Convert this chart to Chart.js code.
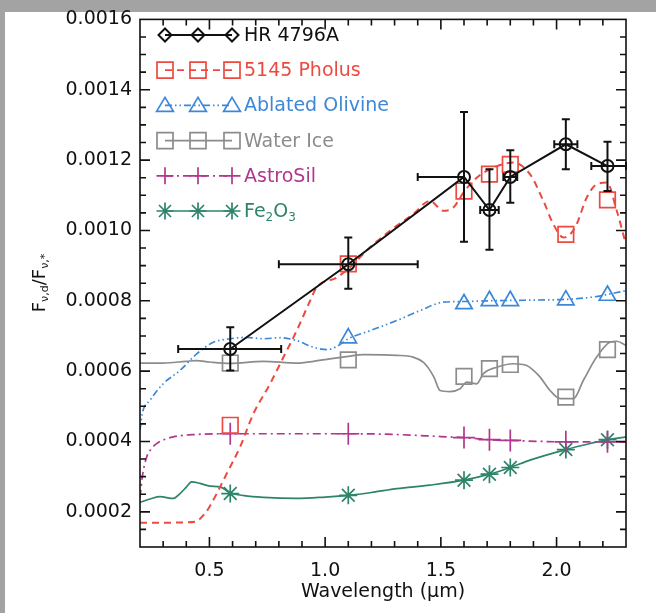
<!DOCTYPE html>
<html>
<head>
<meta charset="utf-8">
<script src="https://cdn.jsdelivr.net/npm/chart.js@4.4.1/dist/chart.umd.min.js"></script>
<style>
  html, body { margin: 0; padding: 0; background: #a3a3a3; }
  #sheet { position: absolute; left: 5px; top: 12px; width: 651px; height: 601px; background: #fff; }
  #spectrum { position: absolute; left: 0; top: 0; }
</style>
</head>
<body>
<div id="sheet"></div>
<canvas id="spectrum" width="656" height="613"></canvas>
<script>
// band centres (microns) where the photometry and model fluxes are sampled
const bands = [0.59, 1.10, 1.60, 1.71, 1.80, 2.04, 2.22];

// HR 4796A measured dust/star flux ratio with errors
const hrFlux   = [0.000663, 0.000904, 0.001152, 0.001058, 0.001152, 0.001245, 0.001183];
const hrFluxLo = [0.000602, 0.000834, 0.000968, 0.000945, 0.001079, 0.001174, 0.001112];
const hrFluxHi = [0.000725, 0.000980, 0.001337, 0.001174, 0.001228, 0.001316, 0.001252];
const hrWaveLo = [0.365, 0.80, 1.40, 1.67, 1.77, 1.99, 2.15];
const hrWaveHi = [0.81, 1.40, 1.60, 1.75, 1.83, 2.09, 2.30];

// model fluxes in each band
const pholusBand  = [0.000446, 0.000905, 0.001112, 0.001160, 0.001188, 0.000989, 0.001087];
const olivineBand = [null, 0.000694, 0.000791, 0.000800, 0.000800, 0.000802, 0.000815];
const waterBand   = [0.000623, 0.000632, 0.000585, 0.000607, 0.000619, 0.000526, 0.000661];
const astroBand   = [0.000422, 0.000422, 0.000411, 0.000405, 0.000403, 0.000399, 0.000399];
const feBand      = [0.000252, 0.000247, 0.000290, 0.000307, 0.000326, 0.000377, 0.000405];

// model spectra
const pholusWave = [0.20, 0.30, 0.40, 0.44, 0.48, 0.50, 0.53, 0.575, 0.632, 0.69, 0.762, 0.82, 0.877, 0.935, 0.963, 1.05, 1.107, 1.194, 1.28, 1.38, 1.453, 1.49, 1.51, 1.554, 1.60, 1.655, 1.712, 1.813, 1.885, 1.943, 1.986, 2.03, 2.06, 2.087, 2.13, 2.173, 2.217, 2.26, 2.30];
const pholusFlux = [0.000169, 0.000169, 0.000170, 0.000172, 0.000195, 0.000214, 0.000250, 0.000309, 0.000384, 0.000479, 0.000564, 0.000640, 0.000715, 0.000800, 0.000838, 0.000866, 0.000895, 0.000952, 0.000999, 0.001046, 0.001084, 0.001065, 0.001056, 0.001065, 0.001110, 0.001150, 0.001174, 0.001193, 0.001160, 0.001084, 0.001018, 0.000980, 0.000990, 0.001018, 0.001093, 0.001131, 0.001136, 0.001056, 0.000960];

const olivineWave = [0.20, 0.21, 0.243, 0.30, 0.373, 0.445, 0.517, 0.589, 0.661, 0.733, 0.805, 0.877, 0.949, 1.007, 1.05, 1.10, 1.194, 1.31, 1.41, 1.51, 1.60, 1.71, 1.80, 1.90, 2.04, 2.15, 2.22, 2.30];
const olivineFlux = [0.000432, 0.000480, 0.000517, 0.000564, 0.000602, 0.000649, 0.000682, 0.000692, 0.000696, 0.000692, 0.000695, 0.000687, 0.000668, 0.000661, 0.000670, 0.000692, 0.000715, 0.000744, 0.000772, 0.000796, 0.000798, 0.000800, 0.000801, 0.000802, 0.000804, 0.000810, 0.000818, 0.000829];

const waterWave = [0.20, 0.30, 0.40, 0.445, 0.50, 0.59, 0.733, 0.877, 0.95, 1.02, 1.10, 1.165, 1.31, 1.38, 1.425, 1.45, 1.47, 1.497, 1.54, 1.583, 1.612, 1.655, 1.684, 1.741, 1.813, 1.871, 1.90, 1.929, 1.972, 2.015, 2.073, 2.116, 2.173, 2.23, 2.26, 2.30];
const waterFlux = [0.000623, 0.000623, 0.000628, 0.000630, 0.000626, 0.000622, 0.000628, 0.000623, 0.000628, 0.000635, 0.000642, 0.000647, 0.000645, 0.000640, 0.000625, 0.000605, 0.000583, 0.000545, 0.000542, 0.000550, 0.000569, 0.000564, 0.000593, 0.000611, 0.000621, 0.000616, 0.000602, 0.000583, 0.000545, 0.000522, 0.000522, 0.000574, 0.000640, 0.000682, 0.000685, 0.000673];

const astroWave = [0.20, 0.21, 0.229, 0.25, 0.272, 0.344, 0.445, 0.59, 0.80, 1.10, 1.30, 1.50, 1.60, 1.71, 1.80, 2.04, 2.22, 2.30];
const astroFlux = [0.000240, 0.000300, 0.000356, 0.000380, 0.000394, 0.000413, 0.000420, 0.000422, 0.000422, 0.000422, 0.000420, 0.000414, 0.000411, 0.000405, 0.000403, 0.000399, 0.000399, 0.000398];

const feWave = [0.20, 0.25, 0.286, 0.344, 0.373, 0.40, 0.423, 0.459, 0.503, 0.546, 0.59, 0.65, 0.733, 0.877, 1.00, 1.10, 1.20, 1.31, 1.453, 1.60, 1.71, 1.80, 1.885, 2.04, 2.15, 2.22, 2.30];
const feFlux = [0.000227, 0.000238, 0.000243, 0.000238, 0.000252, 0.000270, 0.000285, 0.000281, 0.000273, 0.000271, 0.000254, 0.000246, 0.000241, 0.000238, 0.000242, 0.000247, 0.000255, 0.000266, 0.000276, 0.000290, 0.000307, 0.000326, 0.000347, 0.000377, 0.000395, 0.000405, 0.000413];

const xTickValues = [0.5, 1.0, 1.5, 2.0];
const yTickValues = [0.0002, 0.0004, 0.0006, 0.0008, 0.0010, 0.0012, 0.0014, 0.0016];

const RED = '#ec4a40', BLUE = '#3d88d6', GREY = '#8c8c8c', MAGENTA = '#b0378d', GREEN = '#2d846a';
const FONT = "'DejaVu Sans', sans-serif";

const DASH = {
  solid: [],
  dashed: [7, 5],
  dashDotDot: [7, 3, 1.5, 3, 1.5, 3],
  dashDot: [8, 4, 2, 4]
};

function pts(xs, ys) {
  return xs.map((x, i) => ({ x, y: ys[i] })).filter(p => p.y !== null);
}

function curve(xs, ys, color, dash, width) {
  return {
    data: pts(xs, ys),
    showLine: true,
    borderColor: color,
    borderWidth: width,
    borderDash: dash,
    pointRadius: 0,
    cubicInterpolationMode: 'monotone'
  };
}

function marks(ys, color, style, radius) {
  return {
    data: pts(bands, ys),
    showLine: false,
    pointStyle: style,
    pointRadius: radius,
    pointBorderColor: color,
    pointBackgroundColor: 'rgba(0,0,0,0)',
    pointBorderWidth: 1.7
  };
}

// inward ticks on all four sides plus the frame
const frameTicks = {
  id: 'frameTicks',
  afterDatasetsDraw(chart) {
    const { ctx, chartArea: a, scales: { x, y } } = chart;
    ctx.save();
    ctx.strokeStyle = '#111';
    ctx.lineWidth = 1.6;
    ctx.beginPath();
    for (let i = 3; i <= 22; i++) {
      const px = x.getPixelForValue(i / 10);
      const len = i % 5 === 0 ? 10 : 6;
      ctx.moveTo(px, a.bottom); ctx.lineTo(px, a.bottom - len);
      ctx.moveTo(px, a.top); ctx.lineTo(px, a.top + len);
    }
    for (let j = 3; j <= 31; j++) {
      const py = y.getPixelForValue(j * 0.00005);
      const len = j % 4 === 0 ? 10 : 6;
      ctx.moveTo(a.left, py); ctx.lineTo(a.left + len, py);
      ctx.moveTo(a.right, py); ctx.lineTo(a.right - len, py);
    }
    ctx.stroke();
    ctx.strokeRect(a.left, a.top, a.right - a.left, a.bottom - a.top);
    ctx.restore();
  }
};

// HR 4796A error bars with caps
const errorBars = {
  id: 'errorBars',
  afterDatasetsDraw(chart) {
    const { ctx, chartArea: a, scales: { x, y } } = chart;
    ctx.save();
    ctx.beginPath();
    ctx.rect(a.left, a.top - 1, a.right - a.left + 1, a.bottom - a.top + 2);
    ctx.clip();
    ctx.strokeStyle = '#111';
    ctx.lineWidth = 2;
    ctx.beginPath();
    bands.forEach((w, i) => {
      const cx = x.getPixelForValue(w), cy = y.getPixelForValue(hrFlux[i]);
      const top = y.getPixelForValue(hrFluxHi[i]), bot = y.getPixelForValue(hrFluxLo[i]);
      const left = x.getPixelForValue(hrWaveLo[i]), right = x.getPixelForValue(hrWaveHi[i]);
      ctx.moveTo(cx, top); ctx.lineTo(cx, bot);
      ctx.moveTo(cx - 4, top); ctx.lineTo(cx + 4, top);
      ctx.moveTo(cx - 4, bot); ctx.lineTo(cx + 4, bot);
      ctx.moveTo(left, cy); ctx.lineTo(right, cy);
      ctx.moveTo(left, cy - 4); ctx.lineTo(left, cy + 4);
      ctx.moveTo(right, cy - 4); ctx.lineTo(right, cy + 4);
    });
    ctx.stroke();
    ctx.restore();
  }
};

function drawMark(ctx, style, x, y, r) {
  ctx.beginPath();
  if (style === 'diamond') {
    ctx.moveTo(x, y - r); ctx.lineTo(x + r, y); ctx.lineTo(x, y + r); ctx.lineTo(x - r, y); ctx.closePath();
  } else if (style === 'square') {
    ctx.rect(x - r, y - r, 2 * r, 2 * r);
  } else if (style === 'triangle') {
    ctx.moveTo(x, y - r); ctx.lineTo(x + r * 1.05, y + r * 0.75); ctx.lineTo(x - r * 1.05, y + r * 0.75); ctx.closePath();
  } else if (style === 'plus') {
    ctx.moveTo(x - r, y); ctx.lineTo(x + r, y); ctx.moveTo(x, y - r); ctx.lineTo(x, y + r);
  } else if (style === 'star') {
    for (let k = 0; k < 4; k++) {
      const t = k * Math.PI / 4;
      ctx.moveTo(x - Math.cos(t) * r, y - Math.sin(t) * r);
      ctx.lineTo(x + Math.cos(t) * r, y + Math.sin(t) * r);
    }
  }
  ctx.stroke();
}

// text pieces: [string, isSubscript]
function drawRich(ctx, pieces, x, y, size) {
  let cx = x;
  pieces.forEach(([s, sub]) => {
    ctx.font = (sub ? Math.round(size * 0.62) : size) + 'px ' + FONT;
    ctx.fillText(s, cx, sub ? y + size * 0.3 : y);
    cx += ctx.measureText(s).width;
  });
  return cx - x;
}

function richWidth(ctx, pieces, size) {
  let w = 0;
  pieces.forEach(([s, sub]) => {
    ctx.font = (sub ? Math.round(size * 0.62) : size) + 'px ' + FONT;
    w += ctx.measureText(s).width;
  });
  return w;
}

const legendRows = [
  { text: [['HR 4796A', false]], color: '#111', dash: DASH.solid, mark: 'diamond', r: 6.5, lw: 2 },
  { text: [['5145 Pholus', false]], color: RED, dash: DASH.dashed, mark: 'square', r: 8, lw: 1.7 },
  { text: [['Ablated Olivine', false]], color: BLUE, dash: DASH.dashDotDot, mark: 'triangle', r: 8, lw: 1.7 },
  { text: [['Water Ice', false]], color: GREY, dash: DASH.solid, mark: 'square', r: 8, lw: 1.7 },
  { text: [['AstroSil', false]], color: MAGENTA, dash: DASH.dashDot, mark: 'plus', r: 8.5, lw: 1.7 },
  { text: [['Fe', false], ['2', true], ['O', false], ['3', true]], color: GREEN, dash: DASH.solid, mark: 'star', r: 8.5, lw: 1.7 }
];

const keyAndLabel = {
  id: 'keyAndLabel',
  afterDraw(chart) {
    const ctx = chart.ctx;
    ctx.save();
    const markX = [165, 198, 232];
    legendRows.forEach((row, i) => {
      const ry = 35 + i * 35.2;
      ctx.strokeStyle = row.color;
      ctx.lineWidth = row.lw;
      ctx.setLineDash(row.dash);
      ctx.beginPath();
      ctx.moveTo(markX[0], ry); ctx.lineTo(markX[2], ry);
      ctx.stroke();
      ctx.setLineDash([]);
      markX.forEach(mx => drawMark(ctx, row.mark, mx, ry, row.r));
      ctx.fillStyle = row.color;
      ctx.textBaseline = 'middle';
      ctx.textAlign = 'left';
      drawRich(ctx, row.text, 244, ry + 1, 19);
    });

    // y axis title F_nu,d / F_nu,*
    const label = [['F', false], ['ν,d', true], ['/F', false], ['ν,*', true]];
    ctx.translate(40, 283);
    ctx.rotate(-Math.PI / 2);
    ctx.fillStyle = '#111';
    ctx.textBaseline = 'middle';
    ctx.textAlign = 'left';
    const w = richWidth(ctx, label, 18);
    drawRich(ctx, label, -w / 2, 0, 18);
    ctx.restore();
  }
};

Chart.defaults.font.family = FONT;
Chart.defaults.color = '#111';

new Chart(document.getElementById('spectrum'), {
  type: 'scatter',
  data: {
    datasets: [
      {
        data: pts(bands, hrFlux),
        showLine: true,
        borderColor: '#111',
        borderWidth: 2,
        pointStyle: 'circle',
        pointRadius: 6,
        pointBorderWidth: 2,
        pointBorderColor: '#111',
        pointBackgroundColor: 'rgba(0,0,0,0)'
      },
      marks(pholusBand, RED, 'rect', 11),
      marks(olivineBand, BLUE, 'triangle', 9.5),
      marks(waterBand, GREY, 'rect', 11),
      marks(astroBand, MAGENTA, 'cross', 11),
      marks(feBand, GREEN, 'star', 9),
      curve(pholusWave, pholusFlux, RED, DASH.dashed, 2),
      curve(olivineWave, olivineFlux, BLUE, DASH.dashDotDot, 1.7),
      curve(waterWave, waterFlux, GREY, DASH.solid, 1.7),
      curve(astroWave, astroFlux, MAGENTA, DASH.dashDot, 1.7),
      curve(feWave, feFlux, GREEN, DASH.solid, 1.7)
    ]
  },
  options: {
    responsive: false,
    animation: false,
    events: [],
    layout: { padding: { top: 18, right: 30, left: 0, bottom: 0 } },
    plugins: { legend: { display: false }, tooltip: { enabled: false } },
    scales: {
      x: {
        type: 'linear',
        min: 0.2,
        max: 2.3,
        afterBuildTicks: scale => { scale.ticks = xTickValues.map(value => ({ value })); },
        afterFit: scale => { scale.height = 66; },
        grid: { display: false, drawTicks: false },
        border: { display: false },
        ticks: { padding: 13, font: { size: 19 }, callback: v => v.toFixed(1) },
        title: { display: true, text: 'Wavelength (µm)', font: { size: 19 }, padding: { top: 0, bottom: 10 } }
      },
      y: {
        type: 'linear',
        min: 0.0001,
        max: 0.0016,
        afterBuildTicks: scale => { scale.ticks = yTickValues.map(value => ({ value })); },
        afterFit: scale => { scale.width = 140; },
        grid: { display: false, drawTicks: false },
        border: { display: false },
        ticks: { padding: 8, font: { size: 19 }, callback: v => v.toFixed(4) }
      }
    }
  },
  plugins: [errorBars, frameTicks, keyAndLabel]
});
</script>
</body>
</html>
